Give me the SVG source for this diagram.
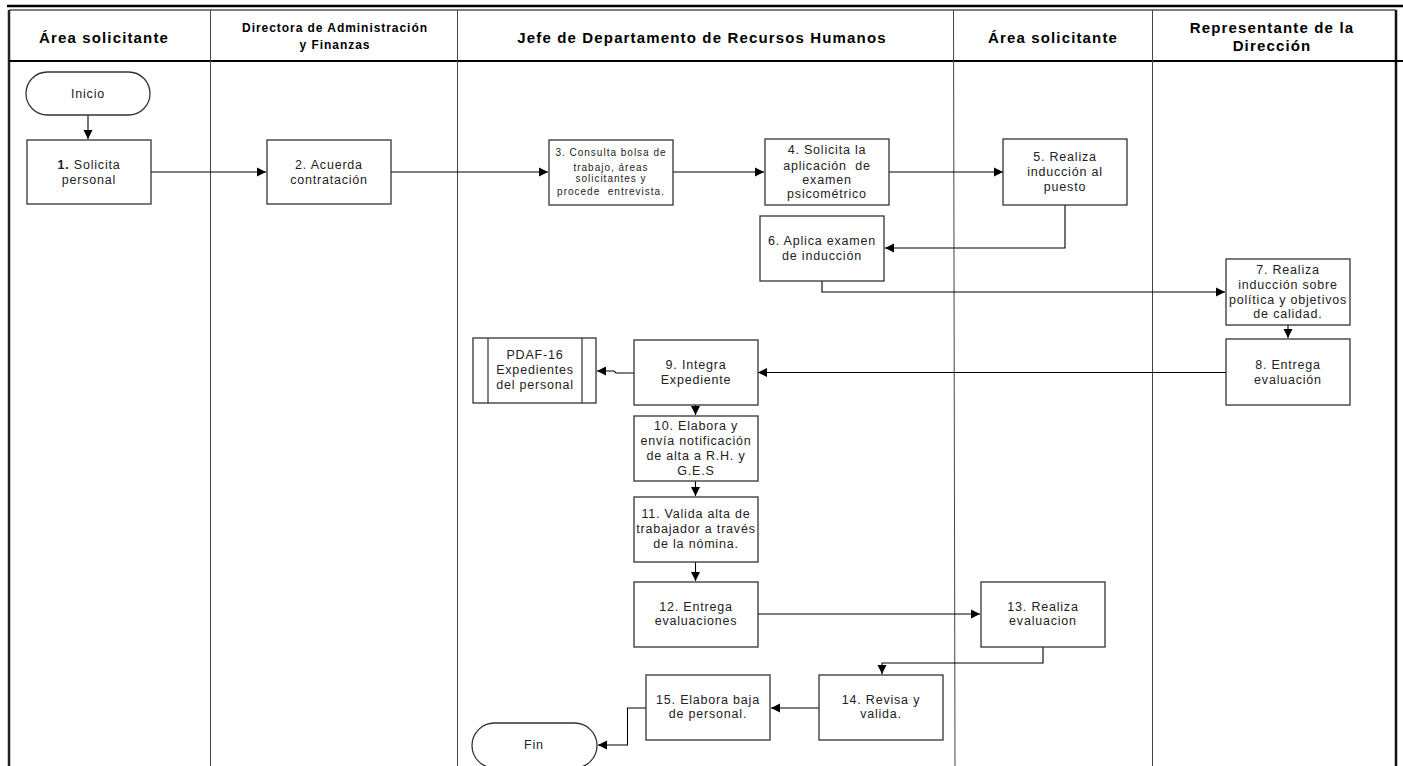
<svg xmlns="http://www.w3.org/2000/svg" width="1403" height="766" viewBox="0 0 1403 766">
<defs>
<marker id="arr" markerWidth="10" markerHeight="10" refX="9" refY="5" orient="auto" markerUnits="userSpaceOnUse">
<path d="M0,0.5 L9,5 L0,9.5 Z" fill="#000"/>
</marker>
<style>
.box{fill:#fff;stroke:#333;stroke-width:1.3}
.t{font-family:"Liberation Sans",Arial,sans-serif;font-size:12.5px;letter-spacing:0.8px;fill:#222;text-anchor:middle}
.ts{font-family:"Liberation Sans",Arial,sans-serif;font-size:10px;letter-spacing:1px;fill:#222;text-anchor:middle}
.h{font-family:"Liberation Sans",Arial,sans-serif;font-weight:bold;font-size:15px;letter-spacing:1.15px;fill:#000;text-anchor:middle}
.hs{font-family:"Liberation Sans",Arial,sans-serif;font-weight:bold;font-size:12px;letter-spacing:0.95px;fill:#000;text-anchor:middle}
.c{fill:none;stroke:#000;stroke-width:1.1}
.lane{stroke:#444;stroke-width:1}
.b{font-weight:bold}
.pre{white-space:pre}
</style>
</defs>
<rect width="1403" height="766" fill="#fff"/>
<g id="frame">
<line x1="7" y1="6" x2="1403" y2="6" stroke="#000" stroke-width="2.5"/>
<line x1="9" y1="10" x2="1396" y2="10" stroke="#000" stroke-width="1.2"/>
<line x1="9" y1="10" x2="9" y2="766" stroke="#222" stroke-width="2.5"/>
<line x1="1396" y1="10" x2="1396" y2="766" stroke="#111" stroke-width="2.5"/>
<line x1="9" y1="61" x2="1403" y2="61" stroke="#000" stroke-width="2.2"/>
<line class="lane" x1="210.5" y1="10" x2="210.5" y2="766"/>
<line class="lane" x1="457.5" y1="10" x2="457.5" y2="766"/>
<line class="lane" x1="953.5" y1="10" x2="955" y2="766"/>
<line class="lane" x1="1152.5" y1="10" x2="1152.5" y2="766"/>
<text class="h" x="104" y="43">Área solicitante</text>
<text class="hs" x="335" y="32">Directora de Administración</text>
<text class="hs" x="335" y="49">y Finanzas</text>
<text class="h" x="702" y="43">Jefe de Departamento de Recursos Humanos</text>
<text class="h" x="1053" y="43">Área solicitante</text>
<text class="h" x="1272" y="33">Representante de la</text>
<text class="h" x="1272" y="51">Dirección</text>
</g>
<g id="connectors">
<path class="c" d="M88,115 V139" marker-end="url(#arr)"/>
<path class="c" d="M151,172 H266" marker-end="url(#arr)"/>
<path class="c" d="M391,172 H548" marker-end="url(#arr)"/>
<path class="c" d="M673,172 H764" marker-end="url(#arr)"/>
<path class="c" d="M889,172 H1003" marker-end="url(#arr)"/>
<path class="c" d="M1065,205 V248 H885" marker-end="url(#arr)"/>
<path class="c" d="M822,281 V292 H1225" marker-end="url(#arr)"/>
<path class="c" d="M1288,325 V338" marker-end="url(#arr)"/>
<path class="c" d="M1226,372.5 H758" marker-end="url(#arr)"/>
<path class="c" d="M634,373 H616 L614,371 H597" marker-end="url(#arr)"/>
<path class="c" d="M695.5,405 V415" marker-end="url(#arr)"/>
<path class="c" d="M695.5,481 V496" marker-end="url(#arr)"/>
<path class="c" d="M695.5,562 V581" marker-end="url(#arr)"/>
<path class="c" d="M758,614 H980" marker-end="url(#arr)"/>
<path class="c" d="M1043,647 V663 H882 V674" marker-end="url(#arr)"/>
<path class="c" d="M819,708 H771" marker-end="url(#arr)"/>
<path class="c" d="M646,708 H627.5 V745 H598" marker-end="url(#arr)"/>
</g>
<g id="inicio">
<rect class="box" x="26" y="72" width="124" height="43" rx="21.5"/>
<text class="t" x="88" y="98">Inicio</text>
</g>
<g id="n1">
<rect class="box" x="27" y="140" width="124" height="64"/>
<text class="t" x="89" y="169"><tspan class="b">1.</tspan> Solicita</text>
<text class="t" x="89" y="184">personal</text>
</g>
<g id="n2">
<rect class="box" x="267" y="140" width="124" height="64"/>
<text class="t" x="329" y="169">2. Acuerda</text>
<text class="t" x="329" y="184">contratación</text>
</g>
<g id="n3">
<rect class="box" x="549" y="140" width="124" height="65"/>
<text class="ts" x="611" y="156">3. Consulta bolsa de</text>
<text class="ts" x="611" y="171">trabajo, áreas</text>
<text class="ts" x="611" y="182">solicitantes y</text>
<text class="ts pre" x="611" y="195">procede  entrevista.</text>
</g>
<g id="n4">
<rect class="box" x="765" y="139" width="124" height="66"/>
<text class="t" x="827" y="154">4. Solicita la</text>
<text class="t pre" x="827" y="170">aplicación  de</text>
<text class="t" x="827" y="184">examen</text>
<text class="t" x="827" y="198">psicométrico</text>
</g>
<g id="n5">
<rect class="box" x="1003" y="139" width="124" height="66"/>
<text class="t" x="1065" y="161">5. Realiza</text>
<text class="t" x="1065" y="176">inducción al</text>
<text class="t" x="1065" y="191">puesto</text>
</g>
<g id="n6">
<rect class="box" x="760" y="216" width="124" height="65"/>
<text class="t" x="822" y="245">6. Aplica examen</text>
<text class="t" x="822" y="260">de inducción</text>
</g>
<g id="n7">
<rect class="box" x="1226" y="259" width="124" height="66"/>
<text class="t" x="1288" y="274">7. Realiza</text>
<text class="t" x="1288" y="289">inducción sobre</text>
<text class="t" x="1288" y="304">política y objetivos</text>
<text class="t" x="1288" y="318">de calidad.</text>
</g>
<g id="n8">
<rect class="box" x="1226" y="339" width="124" height="66"/>
<text class="t" x="1288" y="369">8. Entrega</text>
<text class="t" x="1288" y="384">evaluación</text>
</g>
<g id="pdaf16">
<rect class="box" x="473" y="338" width="123" height="65"/>
<line x1="488" y1="338" x2="488" y2="403" stroke="#333" stroke-width="1.2"/>
<line x1="582" y1="338" x2="582" y2="403" stroke="#333" stroke-width="1.2"/>
<text class="t" x="535" y="359">PDAF-16</text>
<text class="t" x="535" y="374">Expedientes</text>
<text class="t" x="535" y="389">del personal</text>
</g>
<g id="n9">
<rect class="box" x="634" y="340" width="124" height="65"/>
<text class="t" x="696" y="369">9. Integra</text>
<text class="t" x="696" y="384">Expediente</text>
</g>
<g id="n10">
<rect class="box" x="634" y="416" width="124" height="65"/>
<text class="t" x="696" y="430">10. Elabora y</text>
<text class="t" x="696" y="445">envía notificación</text>
<text class="t" x="696" y="460">de alta a R.H. y</text>
<text class="t" x="696" y="475">G.E.S</text>
</g>
<g id="n11">
<rect class="box" x="634" y="497" width="124" height="65"/>
<text class="t" x="696" y="518">11. Valida alta de</text>
<text class="t" x="696" y="533">trabajador a través</text>
<text class="t" x="696" y="548">de la nómina.</text>
</g>
<g id="n12">
<rect class="box" x="634" y="582" width="124" height="65"/>
<text class="t" x="696" y="611">12. Entrega</text>
<text class="t" x="696" y="625">evaluaciones</text>
</g>
<g id="n13">
<rect class="box" x="981" y="582" width="124" height="65"/>
<text class="t" x="1043" y="611">13. Realiza</text>
<text class="t" x="1043" y="625">evaluacion</text>
</g>
<g id="n14">
<rect class="box" x="819" y="675" width="124" height="65"/>
<text class="t" x="881" y="704">14. Revisa y</text>
<text class="t" x="881" y="718">valida.</text>
</g>
<g id="n15">
<rect class="box" x="646" y="675" width="124" height="65"/>
<text class="t" x="708" y="704">15. Elabora baja</text>
<text class="t" x="708" y="718">de personal.</text>
</g>
<g id="fin">
<rect class="box" x="472" y="723" width="125" height="45" rx="22.5"/>
<text class="t" x="534" y="749">Fin</text>
</g>
</svg>
